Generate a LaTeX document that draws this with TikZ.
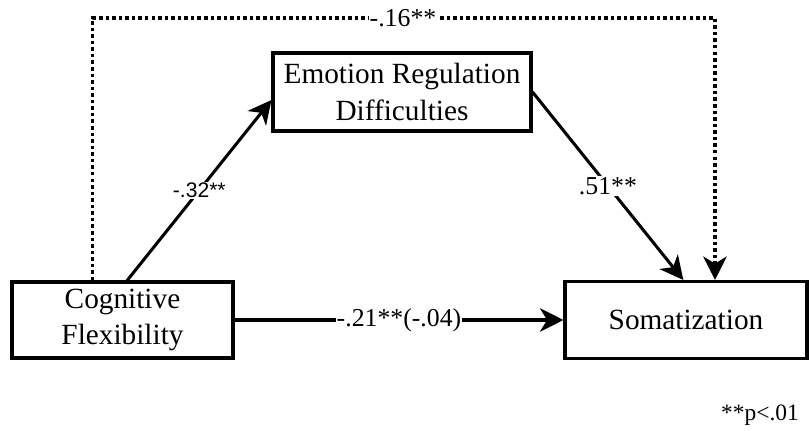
\documentclass[tikz,border=0pt]{standalone}
\usepackage{fontspec}
\setmainfont{Liberation Serif}
\setsansfont{Liberation Sans}
\usetikzlibrary{arrows.meta}
\usetikzlibrary{positioning}
\usetikzlibrary{calc}

\begin{document}
\begin{tikzpicture}[x=0.03cm,y=-0.03cm,>={Stealth[length=20pt,width=20pt,inset=6pt]}]
	\tikzset{varbox/.style = {shape=rectangle, draw, line width=2.6pt, align=center, inner sep=0pt, font=\fontsize{25}{31}\selectfont}}
	\tikzset{coef/.style = {fill=white, inner sep=1pt, font=\fontsize{22}{26}\selectfont}}
	\tikzset{effect/.style = {->, line width=2.6pt}}
	\tikzset{direct/.style = {->, line width=3.4pt}}
	\tikzset{total/.style = {->, line width=3pt, dash pattern=on 3pt off 2.6pt}}
	\useasboundingbox (0,0) rectangle (809,431);
	% variables
	\node[varbox, minimum width=6.63cm, minimum height=2.28cm] (CF) at (122.5,320) {Cognitive\\Flexibility};
	\node[varbox, minimum width=7.74cm, minimum height=2.34cm] (ER) at (402,92) {Emotion Regulation\\Difficulties};
	\node[varbox, minimum width=7.26cm, minimum height=2.31cm] (SOM) at (686,320) {Somatization};
	% paths
	\draw[effect] ([xshift=0.14cm]CF.north) -- node[coef, font=\sffamily\fontsize{18}{22}\selectfont] {-.32**} ([yshift=-0.24cm]ER.west);
	\draw[effect] (ER.east) -- node[coef] {.51**} ([xshift=-0.08cm]SOM.north);
	\draw[direct] (CF.east) -- node[coef] {-.21**(-.04)} (SOM.west);
	\coordinate (top) at (403,18);
	\draw[total] ([xshift=-0.9cm]CF.north) |- (top) -| ([xshift=0.87cm]SOM.north);
	\node[coef] (c16) at (top) {-.16**};
	% note
	\node[font=\fontsize{20}{24}\selectfont] (note) at (760,415) {**p<.01};
\end{tikzpicture}
\end{document}
